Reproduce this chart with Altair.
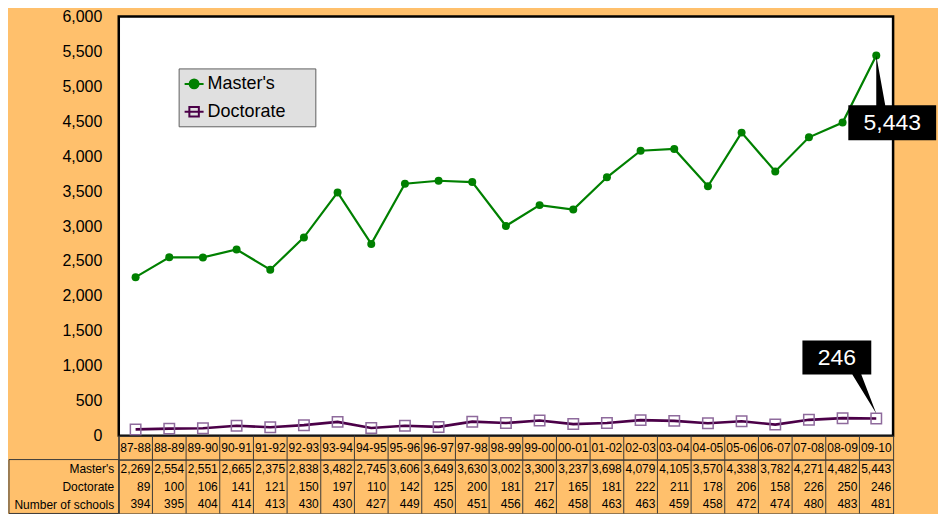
import altair as alt
import pandas as pd

categories = ["87-88", "88-89", "89-90", "90-91", "91-92", "92-93", "93-94", "94-95",
              "95-96", "96-97", "97-98", "98-99", "99-00", "00-01", "01-02", "02-03",
              "03-04", "04-05", "05-06", "06-07", "07-08", "08-09", "09-10"]
masters = [2269, 2554, 2551, 2665, 2375, 2838, 3482, 2745, 3606, 3649, 3630, 3002,
           3300, 3237, 3698, 4079, 4105, 3570, 4338, 3782, 4271, 4482, 5443]
doctorate = [89, 100, 106, 141, 121, 150, 197, 110, 142, 125, 200, 181,
             217, 165, 181, 222, 211, 178, 206, 158, 226, 250, 246]
schools = [394, 395, 404, 414, 413, 430, 430, 427, 449, 450, 451, 456,
           462, 458, 463, 463, 459, 458, 472, 474, 480, 483, 481]
series_names = ["Master's", "Doctorate"]
row_names = ["Master's", "Doctorate", "Number of schools"]
y_ticks = list(range(0, 6001, 500))

FONT = "Liberation Sans"
BG = "#FFC06C"
GREEN = "#008000"
DPURPLE = "#4B0048"
LPURPLE = "#8E6A9C"
LINE = "#3a3a3a"
W = 776

main_df = pd.DataFrame({
    "cat": categories * 2,
    "series": [series_names[0]] * len(categories) + [series_names[1]] * len(categories),
    "value": masters + doctorate,
})
tbl_df = pd.DataFrame({
    "cat": categories * 3,
    "row": sum([[r] * len(categories) for r in row_names], []),
    "value": masters + doctorate + schools,
})
hdr_df = pd.DataFrame({"cat": categories})

xs = alt.Scale(domain=categories, paddingInner=0, paddingOuter=0)
x_c = alt.X("cat:N", scale=xs, axis=None, sort=categories)
x_start = alt.X("cat:N", scale=xs, axis=None, sort=categories, bandPosition=0)
x_end = alt.X("cat:N", scale=xs, axis=None, sort=categories, bandPosition=1)

ysc = alt.Scale(domain=[0, 6000], nice=False)
yax = alt.Axis(values=y_ticks, labelExpr="format(datum.value, ',')", labelFontSize=16,
               labelColor="black", labelFont=FONT, ticks=False, domain=False, grid=False,
               labelPadding=17, title=None)
y_main = alt.Y("value:Q", scale=ysc, axis=yax)

# legend symbols: short line with marker; trailing move-to widens the legend box like the original
circ = "M-1,0H1M0.47,0A0.47,0.47,0,1,1,-0.47,0A0.47,0.47,0,1,1,0.47,0ZM11.8,0"
sq = "M-1,0H1M-0.5,-0.5H0.5V0.5H-0.5ZM11.8,0"

legend = alt.Legend(
    title=None, orient="none", legendX=60, legendY=52, zindex=5,
    fillColor="#E0E0E0", strokeColor="#5F5F5F", padding=5, rowPadding=8,
    labelFontSize=18, labelFont=FONT, labelColor="black", labelOffset=3,
    symbolSize=361, symbolStrokeWidth=2,
)

m_src = alt.Chart(main_df).transform_filter(alt.datum.series == series_names[0])
d_src = alt.Chart(main_df).transform_filter(alt.datum.series == series_names[1])

line_m = m_src.mark_line(strokeWidth=2.2, color=GREEN).encode(x=x_c, y=y_main)
line_d = d_src.mark_line(strokeWidth=2.6, color=DPURPLE).encode(x=x_c, y=y_main)

# legend carrier: points pushed outside the plot and clipped away
leg_layer = alt.Chart(main_df).transform_calculate(hidden="datum.value - 100000").mark_point(
    opacity=1, strokeWidth=2, clip=True).encode(
    x=x_c, y=alt.Y("hidden:Q", scale=ysc, axis=yax),
    shape=alt.Shape("series:N", scale=alt.Scale(domain=series_names, range=[circ, sq]),
                    legend=legend, sort=series_names),
    fill=alt.Fill("series:N", scale=alt.Scale(domain=series_names, range=[GREEN, "transparent"]),
                  legend=legend, sort=series_names),
    stroke=alt.Stroke("series:N", scale=alt.Scale(domain=series_names, range=[GREEN, DPURPLE]),
                      legend=legend, sort=series_names),
)

pts_m = m_src.mark_point(shape="circle", filled=True, color=GREEN, size=64,
                         opacity=1).encode(x=x_c, y=y_main)
pts_d = d_src.mark_point(shape="square", filled=False, color=LPURPLE, size=110,
                         strokeWidth=1.5, opacity=1).encode(x=x_c, y=y_main)

call_m_shape = "M0,0L0.18,1L1.2,1L1.2,1.7L-0.56,1.7L-0.56,1L0,1Z"
call_d_shape = "M-1.48,-1.56H-0.1V-0.88H-0.3L0,-0.1L-0.48,-0.88H-1.48Z"

last_m = m_src.transform_filter(alt.datum.cat == categories[-1])
last_d = d_src.transform_filter(alt.datum.cat == categories[-1])

cm_box = last_m.mark_point(shape=call_m_shape, size=10000, filled=True, color="black",
                           opacity=1, strokeWidth=0).encode(x=x_c, y=y_main)
cm_txt = last_m.mark_text(dx=16, dy=67.5, fontSize=23, font=FONT, color="white",
                          align="center", baseline="middle").encode(
    x=x_c, y=y_main, text=alt.Text("value:Q", format=","))
cd_box = last_d.mark_point(shape=call_d_shape, size=10000, filled=True, color="black",
                           opacity=1, strokeWidth=0).encode(x=x_c, y=y_main)
cd_txt = last_d.mark_text(dx=-39.5, dy=-61, fontSize=23, font=FONT, color="white",
                          align="center", baseline="middle").encode(
    x=x_c, y=y_main, text=alt.Text("value:Q", format=","))

main = alt.layer(line_m, line_d, pts_m, pts_d, leg_layer, cm_box, cm_txt, cd_box, cd_txt).properties(
    width=W, height=420,
    view=alt.ViewBackground(fill="white", stroke="black", strokeWidth=2.5),
)

header = alt.layer(
    alt.Chart(hdr_df).mark_rule(color=LINE, strokeWidth=1).encode(x=x_start),
    alt.Chart(hdr_df).mark_text(fontSize=12, font=FONT, color="black").encode(x=x_c, text="cat:N"),
).properties(width=W, height=24,
             view=alt.ViewBackground(stroke=LINE, strokeWidth=1))

y_tbl = alt.Y("row:N", sort=row_names,
              scale=alt.Scale(domain=row_names, paddingInner=0, paddingOuter=0),
              axis=alt.Axis(title=None, ticks=False, domain=False, grid=False, labelFontSize=12,
                            labelFont=FONT, labelColor="black", labelPadding=5))

table = alt.layer(
    alt.Chart(hdr_df).mark_rule(color=LINE, strokeWidth=1).encode(x=x_start),
    alt.Chart(hdr_df).transform_filter(alt.datum.cat == categories[0]).mark_rect(
        fillOpacity=0, stroke=LINE, strokeWidth=1).encode(
        x=alt.value(-110), x2=alt.value(0), y=alt.value(0), y2=alt.value(54)),
    alt.Chart(tbl_df).mark_text(align="right", dx=-2, fontSize=12, font=FONT, color="black",
                                baseline="middle").encode(
        x=x_end, y=y_tbl, text=alt.Text("value:Q", format=",")),
).properties(width=W, height=54,
             view=alt.ViewBackground(stroke=LINE, strokeWidth=1))

chart = alt.vconcat(main, header, table, spacing=0, bounds="flush").properties(
    padding={"left": 0, "top": -2, "right": 0, "bottom": 0}
).configure(background=BG, font=FONT)

chart.save("out.html", embed_options={"renderer": "svg", "actions": False})
